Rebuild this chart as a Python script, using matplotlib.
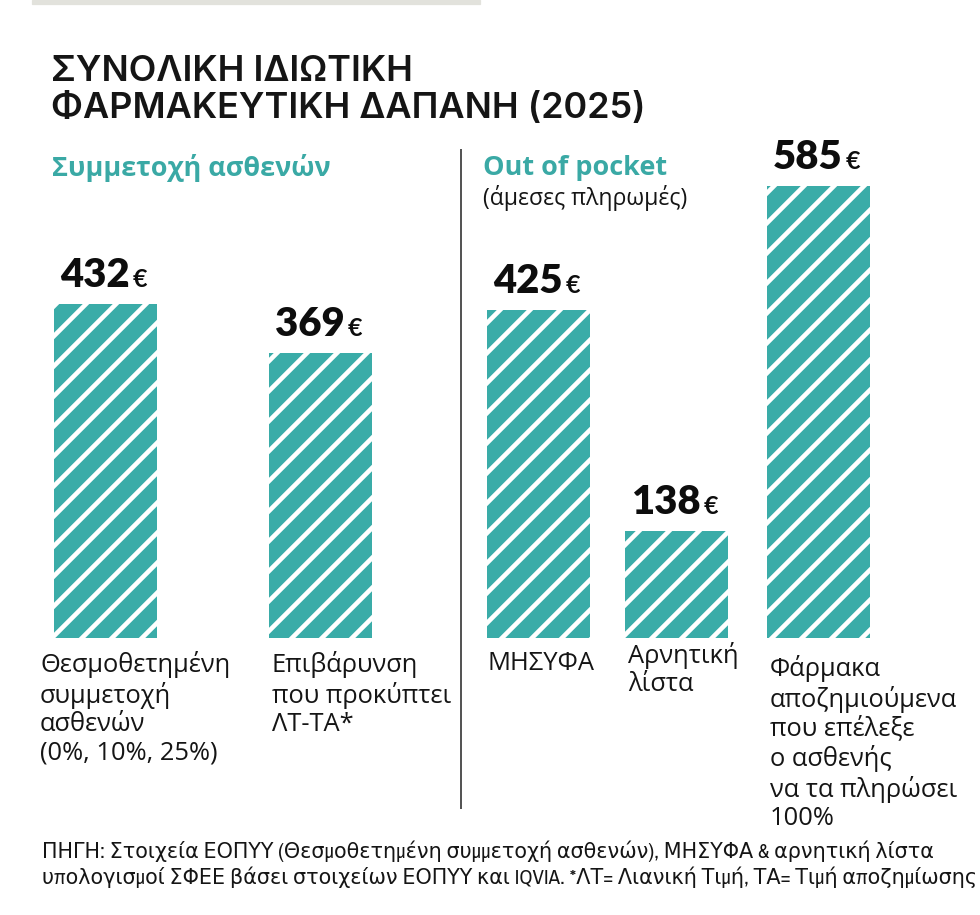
import matplotlib
matplotlib.use("Agg")
import matplotlib.pyplot as plt
from matplotlib.patches import Rectangle
from matplotlib import font_manager

DPI = 90
W, H = 980, 915

categories = [
    "Θεσμοθετημένη\nσυμμετοχή\nασθενών\n(0%, 10%, 25%)",
    "Επιβάρυνση\nπου προκύπτει\nΛΤ-ΤΑ*",
    "ΜΗΣΥΦΑ",
    "Αρνητική\nλίστα",
    "Φάρμακα\nαποζημιούμενα\nπου επέλεξε\nο ασθενής\nνα τα πληρώσει\n100%",
]
values = [432, 369, 425, 138, 585]
value_labels = ["432", "369", "425", "138", "585"]

title = "ΣΥΝΟΛΙΚΗ ΙΔΙΩΤΙΚΗ\nΦΑΡΜΑΚΕΥΤΙΚΗ ΔΑΠΑΝΗ (2025)"
group1 = "Συμμετοχή ασθενών"
group2 = "Out of pocket"
group2_sub = "(άμεσες πληρωμές)"
source = ("ΠΗΓΗ: Στοιχεία ΕΟΠΥΥ (Θεσμοθετημένη συμμετοχή ασθενών), ΜΗΣΥΦΑ & αρνητική λίστα\n"
          "υπολογισμοί ΣΦΕΕ βάσει στοιχείων ΕΟΠΥΥ και IQVIA. *ΛΤ= Λιανική Τιμή, ΤΑ= Τιμή αποζημίωσης")

# layout in pixels
bar_left = [54, 269, 487, 625, 767]
bar_w = 103
cat_x = [40, 272, 487, 628, 770]
cat_top = [651, 651, 651, 642, 655]
base_y = 638
px_per_unit = 0.7725

TEAL = "#3aaca8"
teal_txt = "#3aa9a5"
INK = "#151515"

def pt(px):
    return px * 72 / DPI

# narrow font for the source line, if any is installed
names = sorted({f.name for f in font_manager.fontManager.ttflist})
narrow = [n for n in names if "Narrow" in n or "Condensed" in n]
src_fam = narrow[:1] + ["DejaVu Sans"]
cond_stretch = [f for f in font_manager.fontManager.ttflist
                if f.name == "DejaVu Sans" and f.stretch == "condensed"]

plt.rcParams["font.family"] = ["Open Sans", "DejaVu Sans"]
plt.rcParams["hatch.linewidth"] = pt(4.6)

fig = plt.figure(figsize=(W / DPI, H / DPI), dpi=DPI)
fig.patch.set_facecolor("white")

def ftext(x, y, s, **kw):
    return fig.text(x / W, 1 - y / H, s, **kw)

# top grey strip
fig.patches.append(Rectangle((32 / W, 1 - 4 / H), (480 - 32) / W, 4 / H,
                             transform=fig.transFigure, color="#e2e2dc", zorder=0))

ftext(51, 55, title, fontsize=pt(36), va="top", ha="left", color=INK,
      linespacing=1.14, fontweight="semibold", family=["Inter", "DejaVu Sans"])

ftext(52, 168, group1, fontsize=pt(27), va="center", color=teal_txt, fontweight="bold")
ftext(483, 168, group2, fontsize=pt(27), va="center", color=teal_txt, fontweight="bold")
ftext(483, 198, group2_sub, fontsize=pt(23), va="center", color=INK)

# divider
fig.add_artist(plt.Line2D([461 / W, 461 / W], [1 - 150 / H, 1 - 808 / H],
                          transform=fig.transFigure, color="#555555", lw=pt(2)))

ymax = 600
ax = fig.add_axes([0, (H - base_y) / H, 1, ymax * px_per_unit / H])
ax.set_xlim(0, W)
ax.set_ylim(0, ymax)
ax.axis("off")

centers = [l + bar_w / 2 for l in bar_left]
ax.bar(centers, values, width=bar_w, color=TEAL, edgecolor="white",
       linewidth=0, hatch="/")

fig.canvas.draw()
rend = fig.canvas.get_renderer()
for l, v, s in zip(bar_left, values, value_labels):
    t = ax.annotate(s, xy=(l + 6, v), xytext=(0, pt(17)), textcoords="offset points",
                    ha="left", va="baseline", fontsize=pt(40), fontweight="heavy",
                    family=["Lato", "DejaVu Sans"], color="#0d0d0d")
    wpx = t.get_window_extent(rend).width
    ax.annotate("€", xy=(l + 6, v), xytext=(pt(wpx + 3), pt(17)), textcoords="offset points",
                ha="left", va="baseline", fontsize=pt(25), fontweight="bold",
                family=["Lato", "DejaVu Sans"], color="#0d0d0d")

for x, y, c in zip(cat_x, cat_top, categories):
    ftext(x, y, c, fontsize=pt(25.5), va="top", ha="left", color=INK,
          linespacing=1.17)

src = ftext(42, 841, source, fontsize=pt(21), va="top", ha="left", color=INK,
            linespacing=1.25, family=src_fam,
            fontstretch="condensed" if (not narrow and cond_stretch) else "normal")
fig.canvas.draw()
bb = src.get_window_extent(rend)
if bb.x1 > 976:
    src.set_fontsize(pt(21) * (976 - 42) / bb.width)

fig.savefig("out.png", dpi=DPI, facecolor="white")
